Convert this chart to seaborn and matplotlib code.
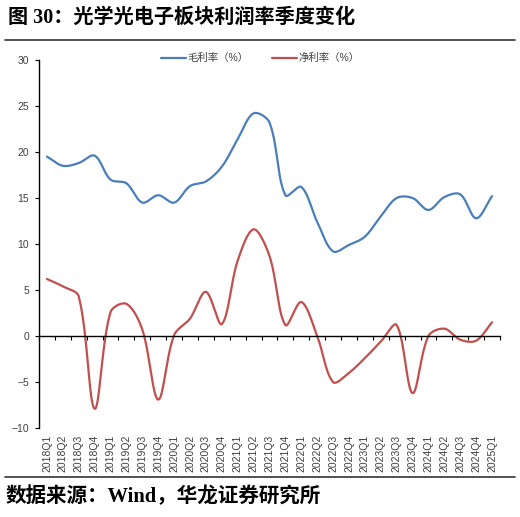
import numpy as np
import pandas as pd
import matplotlib
matplotlib.use("Agg")
import matplotlib.pyplot as plt
import seaborn as sns

# quarterly values
quarters = ["2018Q1", "2018Q2", "2018Q3", "2018Q4", "2019Q1", "2019Q2", "2019Q3", "2019Q4",
            "2020Q1", "2020Q2", "2020Q3", "2020Q4", "2021Q1", "2021Q2", "2021Q3", "2021Q4",
            "2022Q1", "2022Q2", "2022Q3", "2022Q4", "2023Q1", "2023Q2", "2023Q3", "2023Q4",
            "2024Q1", "2024Q2", "2024Q3", "2024Q4", "2025Q1"]
gross_margin = [19.5, 18.5, 18.8, 19.6, 17.0, 16.6, 14.5, 15.3, 14.5, 16.3, 16.8, 18.4, 21.4, 24.2,
                23.2, 15.3, 16.2, 12.4, 9.2, 9.9, 10.8, 13.0, 15.0, 15.0, 13.7, 15.1, 15.4, 12.8, 15.2]
net_margin = [6.2, 5.4, 4.3, -7.9, 2.6, 3.5, 0.7, -6.9, 0.1, 1.9, 4.8, 1.3, 8.2, 11.6,
              8.7, 1.2, 3.7, 0.0, -5.0, -4.0, -2.4, -0.6, 1.2, -6.2, 0.0, 0.8, -0.4, -0.5, 1.5]
series_names = ["毛利率（%）", "净利率（%）"]
colors = ["#4A7EBB", "#C0504D"]

# pixel size of one x step / one y unit, used for chord lengths when smoothing
PX_X, PX_Y = 15.9, 9.2


def smooth_line(vals, steps=30, tension=1 / 3):
    # excel-like smoothed line: bezier segments, tangents weighted by chord length
    p = np.array(vals, dtype=float)
    x = np.arange(len(p), dtype=float)
    n = len(p)
    d = np.hypot(np.diff(x) * PX_X, np.diff(p) * PX_Y)
    before, after = [], []
    for i in range(n):
        i0, i2 = max(i - 1, 0), min(i + 1, n - 1)
        tx, ty = x[i2] - x[i0], p[i2] - p[i0]
        da = d[i - 1] if i > 0 else 0.0
        db = d[i] if i < n - 1 else 0.0
        s = da + db
        fa = tension * da / s
        fb = tension * db / s
        before.append((x[i] - tx * fa, p[i] - ty * fa))
        after.append((x[i] + tx * fb, p[i] + ty * fb))
    xs, ys = [], []
    for i in range(n - 1):
        t = np.linspace(0, 1, steps, endpoint=(i == n - 2))
        a, b, c, e = (1 - t) ** 3, 3 * (1 - t) ** 2 * t, 3 * (1 - t) * t ** 2, t ** 3
        xs.append(a * x[i] + b * after[i][0] + c * before[i + 1][0] + e * x[i + 1])
        ys.append(a * p[i] + b * after[i][1] + c * before[i + 1][1] + e * p[i + 1])
    return np.concatenate(xs), np.concatenate(ys)


sns.set_theme(style="white")
plt.rcParams["font.family"] = ["Liberation Sans", "Noto Sans CJK SC", "DejaVu Sans"]

fig = plt.figure(figsize=(5.2, 5.17), dpi=100)
ax = fig.add_axes([0.075, 0.172, 0.8865, 0.712])

for vals, name, col in zip([gross_margin, net_margin], series_names, colors):
    sx, sy = smooth_line(vals)
    sns.lineplot(x=sx, y=sy, ax=ax, color=col, linewidth=1.6, label=name, sort=False)

for side in ["top", "right"]:
    ax.spines[side].set_visible(False)
ax.spines["left"].set_color("black")
ax.spines["left"].set_linewidth(1.0)
ax.spines["bottom"].set_position(("data", 0))
ax.spines["bottom"].set_color("black")
ax.spines["bottom"].set_linewidth(1.0)

ax.set_xlim(-0.5, len(quarters) - 0.5)
ax.set_ylim(-10, 30)
ax.set_yticks(range(-10, 31, 5))
ax.set_yticklabels([f"{v}" if v >= 0 else f"\u2212{-v}" for v in range(-10, 31, 5)])

ax.set_xticks(range(len(quarters)))
ax.set_xticklabels(quarters)
ax.set_xticks(np.arange(len(quarters) + 1) - 0.5, minor=True)

ax.tick_params(axis="y", direction="out", length=3, width=0.8, color="black",
               labelsize=7.5, labelcolor="#404040", left=True, pad=4)
ax.tick_params(axis="x", which="major", length=0, labelsize=7.5, labelcolor="#404040",
               pad=71, labelrotation=90)
ax.tick_params(axis="x", which="minor", direction="out", length=3, width=0.8, color="black", bottom=True)
ax.set_xlabel("")
ax.set_ylabel("")
ax.grid(False)

leg = ax.legend(loc="center", bbox_to_anchor=(0.48, 1.005), ncol=2, frameon=False,
                fontsize=7.5, handlelength=2.4, columnspacing=2.2, handletextpad=0.2)
for t in leg.get_texts():
    t.set_color("#404040")

fig.text(0.015, 0.966, "图 30：光学光电子板块利润率季度变化", fontsize=14.5, fontweight="bold",
         va="center", ha="left", color="black",
         family=["Liberation Serif", "Noto Sans CJK SC", "DejaVu Sans"])
fig.text(0.01, 0.038, "数据来源：Wind，华龙证券研究所", fontsize=14.8, fontweight="bold",
         va="center", ha="left", color="black",
         family=["Liberation Serif", "Noto Sans CJK SC", "DejaVu Sans"])
fig.add_artist(plt.Line2D([0.01, 0.99], [0.922, 0.922], color="#333333", linewidth=1.2))
fig.add_artist(plt.Line2D([0.01, 0.99], [0.077, 0.077], color="#333333", linewidth=1.2))

fig.savefig("out.png", dpi=100, facecolor="white")
